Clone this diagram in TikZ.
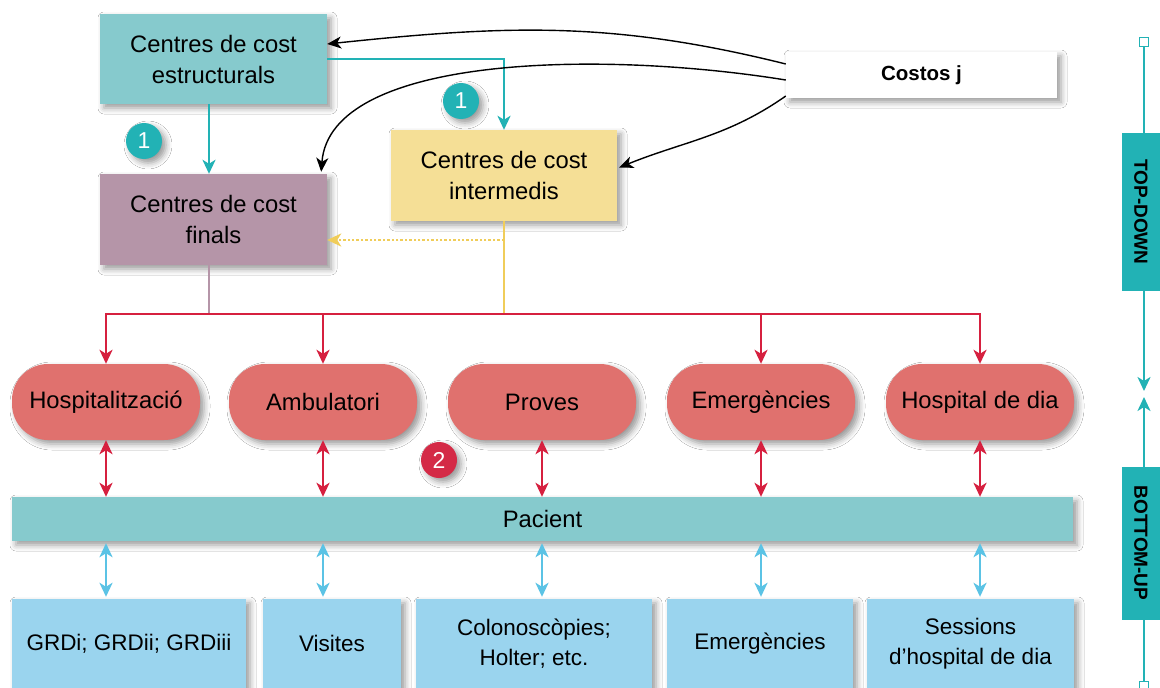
\documentclass[tikz,border=0pt]{standalone}
\usepackage{fontspec}
\setmainfont{Liberation Sans}
\usetikzlibrary{arrows.meta,shadows.blur,calc}

\definecolor{tealbox}{HTML}{86CACD}
\definecolor{tealline}{HTML}{22B2B5}
\definecolor{mauvebox}{HTML}{B595A8}
\definecolor{yellowbox}{HTML}{F5DF96}
\definecolor{yellowline}{HTML}{F0CD5A}
\definecolor{redpill}{HTML}{E0716E}
\definecolor{redline}{HTML}{D6203F}
\definecolor{redbadge}{HTML}{D42A46}
\definecolor{bluebox}{HTML}{9AD4EE}
\definecolor{blueline}{HTML}{5BC3E5}

\tikzset{
  shade box/.style={blur shadow={shadow xshift=4pt, shadow yshift=-4pt,
      shadow blur radius=6pt, shadow opacity=40}},
  costbox/.style={rectangle, inner sep=0pt, align=center, shade box,
      font=\fontsize{23.8}{31}\selectfont},
  pill/.style={costbox, rounded corners=36pt, fill=redpill,
      minimum width=188pt, minimum height=76pt},
  outbox/.style={costbox, fill=bluebox, minimum height=89pt,
      font=\fontsize{22.5}{30}\selectfont},
  badge/.style={circle, inner sep=0pt, minimum size=36pt, text=white,
      shade box, font=\fontsize{23}{23}\selectfont},
  sidebox/.style={rectangle, inner sep=0pt, fill=tealline, minimum width=43pt},
  sidelabel/.style={rotate=-90, font=\fontsize{19}{19}\selectfont\bfseries},
  tip/.style={-{Stealth[length=14pt, width=13pt, inset=4pt]}},
  twotip/.style={{Stealth[length=14pt, width=13pt, inset=4pt]}-{Stealth[length=14pt, width=13pt, inset=4pt]}},
  costarrow/.style={-{Stealth[length=14pt, width=12pt, inset=4pt]}, line width=1.4pt, black},
  thick line/.style={line width=2.8pt},
  thin line/.style={line width=2.4pt},
}

\begin{document}
\begin{tikzpicture}[x=1pt, y=-1pt]
\useasboundingbox (0,0) rectangle (1160,688);
\fill[white] (0,0) rectangle (1160,688);

% cost centres
\node[costbox, fill=tealbox, minimum width=227pt, minimum height=90pt]
  (estr) at (213.5,59) {Centres de cost\\estructurals};
\node[costbox, fill=mauvebox, minimum width=227pt, minimum height=91pt]
  (fin) at (213.5,219.5) {Centres de cost\\finals};
\node[costbox, fill=yellowbox, minimum width=226pt, minimum height=91pt]
  (inter) at (504,175.5) {Centres de cost\\intermedis};
\node[costbox, fill=white, minimum width=271pt, minimum height=46pt,
  font=\fontsize{20.5}{24}\selectfont\bfseries] (costs) at (921.5,75) {Costos j};

% badges
\node[badge, fill=tealline] (b1a) at (144,141) {1};
\node[badge, fill=tealline] (b1b) at (461,101) {1};
\node[badge, fill=redbadge] (b2) at (439,460) {2};

% care lines
\node[pill] (hosp) at (106,402) {Hospitalització};
\node[pill] (amb)  at (323,402) {Ambulatori};
\node[pill] (prov) at (542,402) {Proves};
\node[pill] (emer) at (761,402) {Emergències};
\node[pill] (hdia) at (980,402) {Hospital de dia};

% patient
\node[costbox, fill=tealbox, minimum width=1061pt, minimum height=44pt]
  (pac) at (542.5,519) {Pacient};

% products
\node[outbox, minimum width=234pt] (grd) at (129,643.5) {GRDi; GRDii; GRDiii};
\node[outbox, minimum width=138pt] (vis) at (332,643.5) {Visites};
\node[outbox, minimum width=236pt] (col) at (534,643.5) {Colonoscòpies;\\Holter; etc.};
\node[outbox, minimum width=186pt] (emo) at (760,643.5) {Emergències};
\node[outbox, minimum width=207pt] (ses) at (970.5,643.5) {Sessions\\d’hospital de dia};

% top-down allocation
\draw[tealline, thin line, tip] (estr.south -| 209,0) -- (fin.north -| 209,0);
\draw[tealline, thin line, tip] (estr.east |- 0,59) -| (inter.north);
\draw[costarrow] (costs.west |- 0,64) to[out=166, in=6] (estr.east |- 0,44);
\draw[costarrow] (costs.west |- 0,80) .. controls (600,50) and (330,55) .. ($(fin.north east)+(-6,-2)$);
\draw[costarrow] (costs.west |- 0,96) to[out=215, in=22] ($(inter.east)+(2,-8)$);
\draw[yellowline, thin line, dotted, tip] (inter.south |- 0,240) -- (fin.east |- 0,240);

% distribution to care lines
\draw[mauvebox, thin line] (fin.south -| 209,0) -- (209,314);
\draw[yellowline, thin line] (inter.south) -- (inter.south |- 0,314);
\draw[redline, thick line] (hosp.north |- 0,314) -- (hdia.north |- 0,314);
\foreach \n in {hosp,amb,emer,hdia}
  \draw[redline, thick line, tip] (\n.north |- 0,313) -- (\n.north);

% care lines and patient
\foreach \n in {hosp,amb,prov,emer,hdia}
  \draw[redline, thick line, twotip] (\n.south) -- (\n.south |- pac.north);
\foreach \n/\m in {hosp/grd,amb/vis,prov/col,emer/emo,hdia/ses}
  \draw[blueline, thick line, twotip] ($(\n.south |- pac.south)+(0,2)$)
    -- ($(\n.south |- \m.north)+(0,-2)$);

% side scale
\node[sidebox, minimum height=158pt, anchor=north west] (td) at (1122,133) {};
\node[sidelabel] (tdl) at (1141,212) {TOP-DOWN};
\node[sidebox, minimum height=153pt, anchor=north west] (bu) at (1122,467) {};
\node[sidelabel] (bul) at (1141,543) {BOTTOM-UP};
\node[draw=tealline, line width=1.8pt, fill=white, minimum size=9pt, inner sep=0pt] (sqt) at (1144,42) {};
\node[draw=tealline, line width=1.8pt, fill=white, minimum size=9pt, inner sep=0pt] (sqb) at (1144,686) {};
\coordinate (meetd) at (1144,391);
\coordinate (meetu) at (1144,397);
\draw[tealline, line width=2pt] (sqt) -- (sqt |- td.north);
\draw[tealline, line width=2pt, tip] (sqt |- td.south) -- (meetd);
\draw[tealline, line width=2pt, tip] (sqt |- bu.north) -- (meetu);
\draw[tealline, line width=2pt] (sqt |- bu.south) -- (sqb);
\end{tikzpicture}
\end{document}
